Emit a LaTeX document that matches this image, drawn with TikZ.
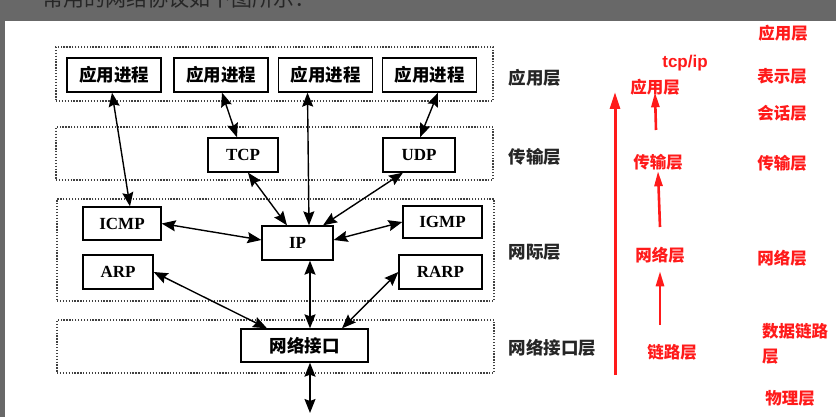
\documentclass[tikz,border=0pt]{standalone}
\usepackage{fontspec}
\setmainfont{Liberation Serif}
\newfontfamily\cjk{Noto Sans CJK SC}
\newfontfamily\lsans{Liberation Sans}
\usetikzlibrary{arrows.meta}
\definecolor{band}{HTML}{686868}
\definecolor{pen}{HTML}{FF1A1A}

\begin{document}
\begin{tikzpicture}[x=1pt, y=-1pt, >={Stealth[length=14pt,width=11pt,inset=2pt]},
    box/.style={draw, line width=1.3pt, inner sep=0pt, minimum height=34pt,
      font=\fontsize{17}{17}\selectfont\bfseries},
    cbox/.style={box, font=\cjk\bfseries\fontsize{17.5}{18}\selectfont},
    layer/.style={draw=black!75, line width=1.3pt, dash pattern=on 1.3pt off 1.6pt,
      inner sep=0pt, minimum width=437pt},
    lname/.style={anchor=west, font=\cjk\bfseries\fontsize{17.5}{18}\selectfont, text=black!85},
    link/.style={<->, line width=1.4pt},
    note/.style={text=pen, inner sep=1pt, font=\cjk\bfseries\fontsize{16.5}{25}\selectfont},
    redup/.style={-{Triangle[length=15pt,width=8pt]}, pen, line width=2.6pt}]
  \useasboundingbox (0,0) rectangle (836,417);
  \fill[white] (0,0) rectangle (836,417);
  \fill[band] (0,0) rectangle (836,21);
  \fill[band] (0,21) rectangle (5,417);
  \begin{scope}
    \clip (0,0) rectangle (836,21);
    \node[anchor=base west, inner sep=0pt, text=black!85, font=\cjk\fontsize{21}{21}\selectfont]
      (caption) at (42,7) {常用的网络协议如下图所示：};
  \end{scope}

  % layers
  \node[layer, minimum height=54pt] (applayer) at (274.5,74) {};
  \node[layer, minimum height=53pt] (tranlayer) at (274.5,153.5) {};
  \node[layer, minimum height=102pt] (netlayer) at (275.5,250) {};
  \node[layer, minimum height=53pt] (linklayer) at (275.5,346.5) {};
  \node[lname] (lapp) at (505,78) {应用层};
  \node[lname] (ltran) at (505,157) {传输层};
  \node[lname] (lnet) at (505,252) {网际层};
  \node[lname] (llink) at (505,348) {网络接口层};

  % protocol boxes
  \foreach \x/\n in {114/1,221/2,325.5/3,429.5/4}
    \node[cbox, minimum width=94pt] (app\n) at (\x,75) {应用进程};
  \node[box, minimum width=70pt] (tcp) at (243,155) {TCP};
  \node[box, minimum width=72pt] (udp) at (419,155) {UDP};
  \node[box, minimum width=78pt, minimum height=33pt] (icmp) at (122,223.5) {ICMP};
  \node[box, minimum width=71pt] (ip) at (297.5,243) {IP};
  \node[box, minimum width=79pt, minimum height=32pt] (igmp) at (442.5,222) {IGMP};
  \node[box, minimum width=70pt] (arp) at (118,272) {ARP};
  \node[box, minimum width=83pt] (rarp) at (440.5,272) {RARP};
  \node[cbox, minimum width=127pt, minimum height=33pt] (netif) at (304.5,345.5) {网络接口};
  \coordinate (wire) at (310,413);

  \draw[link] ([xshift=-2pt]app1.south) -- ([xshift=8pt]icmp.north);
  \draw[link] ([xshift=1pt]app2.south) -- ([xshift=-6pt]tcp.north);
  \draw[link] ([xshift=-18pt]app3.south) -- ([xshift=11.5pt]ip.north);
  \draw[link] ([xshift=8.5pt]app4.south) -- ([xshift=1pt]udp.north);
  \draw[link] ([xshift=5pt]tcp.south) -- ([xshift=-10.5pt]ip.north);
  \draw[link] ([xshift=-16pt]udp.south) -- ([xshift=25.5pt]ip.north);
  \draw[link] (icmp.east) -- ([yshift=3pt]ip.west);
  \draw[link] (igmp.west) -- ([yshift=3pt]ip.east);
  \draw[link] ([xshift=12.5pt]ip.south) -- ([xshift=5.5pt]netif.north);
  \draw[link] (arp.east) -- ([xshift=-37.5pt]netif.north);
  \draw[link] (rarp.west) -- ([xshift=37.5pt]netif.north);
  \draw[link] ([xshift=5.5pt]netif.south) -- (wire);

  % red notes
  \coordinate (redbot) at (615,375);
  \coordinate (redtop) at (615,92);
  \draw[-{Triangle[length=17pt,width=10pt]}, pen, line width=3pt] (redbot) -- (redtop);
  \node[note, font=\lsans\bfseries\fontsize{17}{17}\selectfont] (tcpip) at (685,63) {tcp/ip};
  \node[note] (rapp) at (655,87) {应用层};
  \node[note] (rtran) at (658,162) {传输层};
  \node[note] (rnet) at (660,255) {网络层};
  \node[note] (rlink) at (672,352) {链路层};
  \coordinate (up1) at (656,130);
  \coordinate (up2) at (660,227);
  \coordinate (up3) at (660,325);
  \draw[redup] (up1) -- ([yshift=4pt]rapp.south);
  \draw[redup] (up2) -- (rtran.south);
  \draw[redup] (up3) -- ([yshift=-7pt]rnet.south);

  \node[note] (osi7) at (783,33) {应用层};
  \node[note] (osi6) at (782,76) {表示层};
  \node[note] (osi5) at (782,113) {会话层};
  \node[note] (osi4) at (782,163) {传输层};
  \node[note] (osi3) at (782,258) {网络层};
  \node[note, anchor=north west, align=left] (osi2) at (761,322) {数据链路\\层};
  \node[note] (osi1) at (790,398) {物理层};
\end{tikzpicture}
\end{document}
